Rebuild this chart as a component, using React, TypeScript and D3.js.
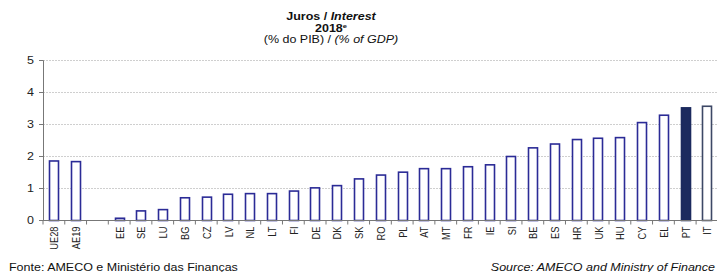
import React, { useEffect, useRef } from "react";
import * as d3 from "d3";

const categories = [
  "UE28", "AE19", "", "EE", "SE", "LU", "BG", "CZ", "LV", "NL", "LT", "FI", "DE", "DK",
  "SK", "RO", "PL", "AT", "MT", "FR", "IE", "SI", "BE", "ES", "HR", "UK", "HU", "CY",
  "EL", "PT", "IT",
];
const values = [
  1.86, 1.84, null, 0.07, 0.3, 0.34, 0.71, 0.73, 0.82, 0.84, 0.84, 0.92, 1.02, 1.09,
  1.3, 1.42, 1.51, 1.62, 1.62, 1.68, 1.74, 2.0, 2.27, 2.39, 2.53, 2.57, 2.59, 3.06,
  3.29, 3.52, 3.57,
];
const yTicks = [0, 1, 2, 3, 4, 5];

const W = 717;
const H = 272;
const SX = 1.25; // the picture is stretched sideways
const FONT = "Liberation Sans, Arial, sans-serif";

export default function App() {
  const ref = useRef<SVGSVGElement>(null);

  useEffect(() => {
    const svg = d3.select(ref.current);
    svg.selectAll("*").remove();

    const x = d3.scaleBand().domain(categories.map((c, i) => i + "")).range([43, 43 + 31 * 21.77]).paddingInner(0.57).paddingOuter(0.285);
    const y = d3.scaleLinear().domain([0, 5]).range([220.5, 60.5]);
    const step = x.step();

    // title
    const t = svg.append("g").attr("font-family", FONT).attr("text-anchor", "middle").attr("fill", "#111").attr("font-size", 10);
    const t1 = t.append("text").attr("transform", `translate(331,19.5) scale(${SX},1)`).attr("font-weight", "bold");
    t1.append("tspan").text("Juros / ");
    t1.append("tspan").attr("font-style", "italic").text("Interest");
    const t2 = t.append("text").attr("transform", `translate(331,31.5) scale(${SX},1)`).attr("font-weight", "bold");
    t2.append("tspan").text("2018");
    t2.append("tspan").attr("font-size", 6).attr("dy", -4).text("e");
    const t3 = t.append("text").attr("transform", `translate(331,43) scale(${SX},1)`);
    t3.append("tspan").text("(% do PIB) / ");
    t3.append("tspan").attr("font-style", "italic").text("(% of GDP)");

    // gridlines
    svg.append("g").selectAll("line").data(yTicks.filter((d) => d > 0)).enter().append("line")
      .attr("x1", 43).attr("x2", W).attr("y1", (d) => y(d)).attr("y2", (d) => y(d))
      .attr("stroke", "#cfcfcf").attr("stroke-dasharray", "2,1").attr("stroke-width", 1);

    // bars
    svg.append("g").selectAll("rect").data(values.map((v, i) => ({ v, i }))).enter()
      .filter((d) => d.v !== null)
      .append("rect")
      .attr("x", (d) => Math.round(x(d.i + "")!) + 0.5)
      .attr("y", (d) => y(d.v as number))
      .attr("width", Math.round(x.bandwidth()))
      .attr("height", (d) => y(0) - y(d.v as number))
      .attr("fill", (d) => (categories[d.i] === "PT" ? "#1c2a5e" : "#fff"))
      .attr("stroke", (d) => (categories[d.i] === "PT" ? "#1c2a5e" : categories[d.i] === "IT" ? "#3d4866" : "#2b2b96"))
      .attr("stroke-width", 1.6);

    // y axis
    const ya = svg.append("g").attr("font-family", FONT);
    ya.append("line").attr("x1", 43.5).attr("x2", 43.5).attr("y1", y(5)).attr("y2", y(0)).attr("stroke", "#777");
    ya.selectAll("line.tk").data(yTicks).enter().append("line").attr("class", "tk")
      .attr("x1", 39).attr("x2", 43.5).attr("y1", (d) => y(d)).attr("y2", (d) => y(d)).attr("stroke", "#777");
    ya.selectAll("text").data(yTicks).enter().append("text")
      .attr("transform", (d) => `translate(34,${y(d) + 3.6}) scale(${SX},1)`)
      .attr("text-anchor", "end").attr("font-size", 10).attr("fill", "#222")
      .text((d) => d);

    // x axis
    const xa = svg.append("g").attr("font-family", FONT);
    xa.append("line").attr("x1", 43).attr("x2", W).attr("y1", y(0)).attr("y2", y(0)).attr("stroke", "#777");
    xa.selectAll("line.tk").data(d3.range(categories.length + 1)).enter().append("line").attr("class", "tk")
      .attr("x1", (i) => 43 + i * step).attr("x2", (i) => 43 + i * step)
      .attr("y1", y(0)).attr("y2", y(0) + 4).attr("stroke", "#777");
    xa.selectAll("text").data(categories.map((c, i) => ({ c, i }))).enter().append("text")
      .attr("transform", (d) => `translate(${x(d.i + "")! + x.bandwidth() / 2 + 4.5},226.5) scale(${SX},1) rotate(-90)`)
      .attr("text-anchor", "end").attr("font-size", 9.3).attr("fill", "#222")
      .text((d) => d.c);

    // footer
    const f = svg.append("g").attr("font-family", FONT).attr("font-size", 10).attr("fill", "#111");
    f.append("text").attr("transform", `translate(9,271) scale(${SX},1)`).text("Fonte: AMECO e Ministério das Finanças");
    f.append("text").attr("transform", `translate(715,271) scale(${SX},1)`).attr("text-anchor", "end").attr("font-style", "italic").text("Source: AMECO and Ministry of Finance");
  }, []);

  return <svg ref={ref} width={W} height={H} style={{ position: "absolute", left: 0, top: 0, background: "#fff" }} />;
}
